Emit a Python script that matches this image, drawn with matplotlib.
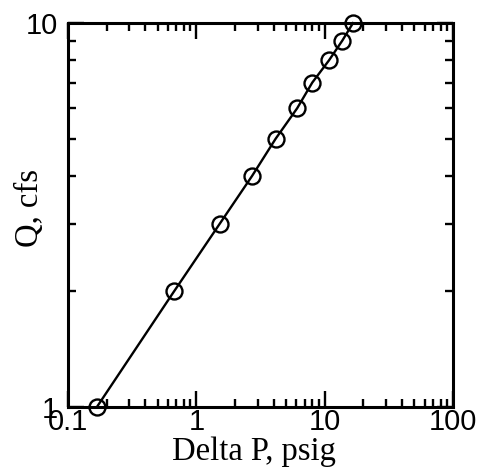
import matplotlib
matplotlib.use("Agg")
import matplotlib.pyplot as plt
from matplotlib.ticker import LogLocator, NullFormatter, FixedLocator, FixedFormatter

# flow vs. pressure drop
delta_p = [0.168, 0.67, 1.52, 2.72, 4.15, 6.1, 8.0, 10.8, 13.7, 16.6]
q_cfs = [1, 2, 3, 4, 5, 6, 7, 8, 9, 10]

x_ticks = [0.1, 1, 10, 100]
x_labels = ["0.1", "1", "10", "100"]
y_ticks = [1, 10]
y_labels = ["1", "10"]

fig = plt.figure(figsize=(4.82, 4.67), dpi=100)
ax = fig.add_axes([0.141, 0.1285, 0.799, 0.822])

ax.plot(delta_p, q_cfs, color="black", lw=1.7, marker="o", ms=11.5,
        mfc="none", mec="black", mew=1.7, clip_on=False, zorder=3)

ax.set_xscale("log")
ax.set_yscale("log")
ax.set_xlim(0.1, 100)
ax.set_ylim(1, 10)

ax.xaxis.set_major_locator(FixedLocator(x_ticks))
ax.xaxis.set_major_formatter(FixedFormatter(x_labels))
ax.yaxis.set_major_locator(FixedLocator(y_ticks))
ax.yaxis.set_major_formatter(FixedFormatter(y_labels))
ax.xaxis.set_minor_locator(LogLocator(base=10, subs=range(2, 10)))
ax.yaxis.set_minor_locator(LogLocator(base=10, subs=range(2, 10)))
ax.xaxis.set_minor_formatter(NullFormatter())
ax.yaxis.set_minor_formatter(NullFormatter())

for s in ax.spines.values():
    s.set_linewidth(2.2)

ax.tick_params(which="both", direction="in", top=True, right=True, width=1.7)
ax.tick_params(which="major", length=11.5)
ax.tick_params(which="minor", length=6)
ax.tick_params(axis="x", which="major", pad=1)
ax.tick_params(axis="y", which="major", pad=7)
for lab in ax.get_xticklabels() + ax.get_yticklabels():
    lab.set_fontfamily("Liberation Sans")
    lab.set_fontsize(21)

ax.set_xlabel("Delta P, psig", fontfamily="Liberation Serif", fontsize=23.5)
ax.set_ylabel("Q, cfs", fontfamily="Liberation Serif", fontsize=23.5)
ax.xaxis.set_label_coords(0.483, -0.137)
ax.xaxis.label.set_va("baseline")
ax.yaxis.set_label_coords(-0.099, 0.518)
ax.yaxis.label.set_va("center")

fig.savefig("out.png", dpi=100)
